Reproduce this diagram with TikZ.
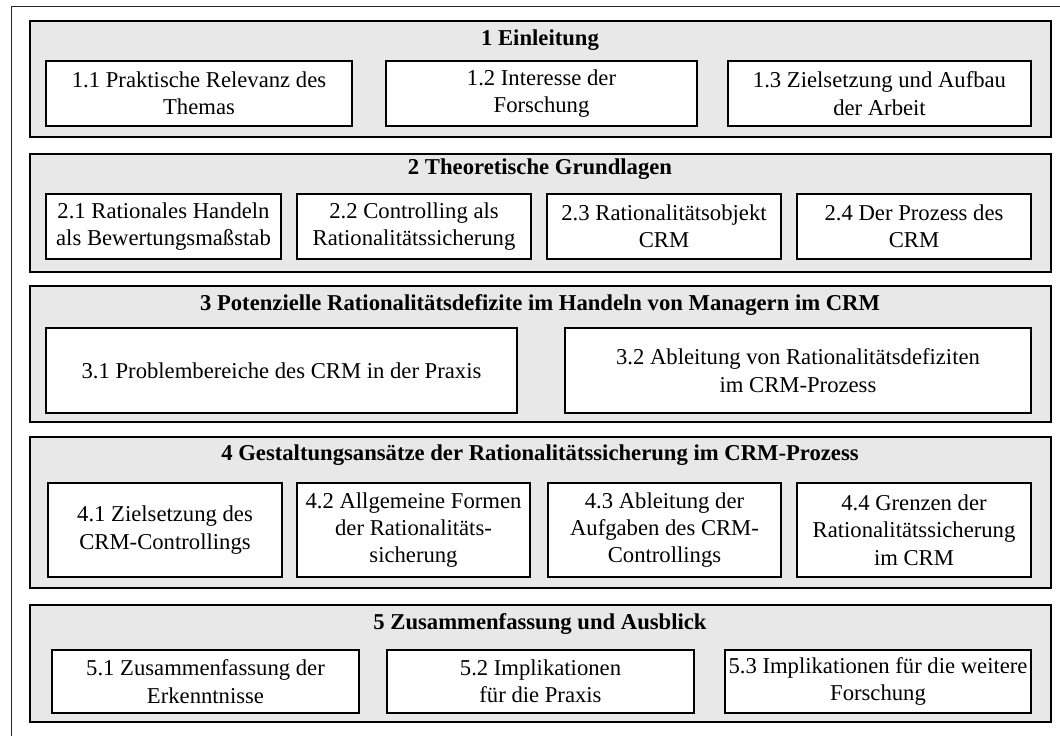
\documentclass[tikz,border=0pt]{standalone}
\usepackage{fontspec}
\setmainfont{Liberation Serif}

\begin{document}
\begin{tikzpicture}[x=.75pt,y=-.75pt,
    part/.style={draw,line width=.8pt,fill=black!9},
    box/.style={draw,line width=.8pt,fill=white},
    txt/.style={align=center,inner sep=0pt,font=\fontsize{17}{20.5}\selectfont},
    head/.style={txt,font=\fontsize{17}{20.5}\selectfont\bfseries}]
  \useasboundingbox (0,0) rectangle (1060,736);
  \draw[black!85,line width=.6pt] (1060,6) -- (11,6) -- (11,736);
  % 1 Einleitung
  \draw[part] (30,21) rectangle (1051,137);
  \node[head] (h1) at (540,40) {1 Einleitung};
  \draw[box] (46,61) rectangle (352,126); \node[txt] (t11) at (199,93.5)
  {1.1 Praktische Relevanz des\\Themas};
  \draw[box] (386,61) rectangle (697,126); \node[txt] (t12) at (541.5,93.5)
  {1.2 Interesse der\\Forschung};
  \draw[box] (728,61) rectangle (1031,126); \node[txt] (t13) at (879.5,93.5)
  {1.3 Zielsetzung und Aufbau\\der Arbeit};
  % 2 Grundlagen
  \draw[part] (30,154) rectangle (1051,272);
  \node[head] (h2) at (540,169) {2 Theoretische Grundlagen};
  \draw[box] (46,194) rectangle (281,259); \node[txt] (t21) at (163.5,226.5)
  {2.1 Rationales Handeln\\als Bewertungsmaßstab};
  \draw[box] (297,194) rectangle (531,259); \node[txt] (t22) at (414,226.5)
  {2.2 Controlling als\\Rationalitätssicherung};
  \draw[box] (547,194) rectangle (781,259); \node[txt] (t23) at (664,226.5)
  {2.3 Rationalitätsobjekt\\CRM};
  \draw[box] (797,194) rectangle (1031,259); \node[txt] (t24) at (914,226.5)
  {2.4 Der Prozess des\\CRM};
  % 3 Defizite
  \draw[part] (30,286) rectangle (1051,422);
  \node[head] (h3) at (540,305)
  {3 Potenzielle Rationalitätsdefizite im Handeln von Managern im CRM};
  \draw[box] (46,328) rectangle (517,413); \node[txt] (t31) at (281.5,370.5)
  {3.1 Problembereiche des CRM in der Praxis};
  \draw[box] (565,328) rectangle (1031,413); \node[txt] (t32) at (798,370.5)
  {3.2 Ableitung von Rationalitätsdefiziten\\im CRM-Prozess};
  % 4 Gestaltung
  \draw[part] (30,437) rectangle (1051,588);
  \node[head] (h4) at (540,455)
  {4 Gestaltungsansätze der Rationalitätssicherung im CRM-Prozess};
  \draw[box] (48,483) rectangle (282,577); \node[txt] (t41) at (165,530)
  {4.1 Zielsetzung des\\CRM-Controllings};
  \draw[box] (297,483) rectangle (530,577); \node[txt] (t42) at (413.5,530)
  {4.2 Allgemeine Formen\\der Rationalitäts-\\sicherung};
  \draw[box] (548,483) rectangle (781,577); \node[txt] (t43) at (664.5,530)
  {4.3 Ableitung der\\Aufgaben des CRM-\\Controllings};
  \draw[box] (797,483) rectangle (1031,577); \node[txt] (t44) at (914,530)
  {4.4 Grenzen der\\Rationalitätssicherung\\im CRM};
  % 5 Ausblick
  \draw[part] (30,605) rectangle (1051,722);
  \node[head] (h5) at (540,624) {5 Zusammenfassung und Ausblick};
  \draw[box] (52,650) rectangle (359,713); \node[txt] (t51) at (205.5,681.5)
  {5.1 Zusammenfassung der\\Erkenntnisse};
  \draw[box] (387,650) rectangle (694,713); \node[txt] (t52) at (540.5,681.5)
  {5.2 Implikationen\\für die Praxis};
  \draw[box] (725,650) rectangle (1031,713); \node[txt] (t53) at (878,681.5)
  {5.3 Implikationen für die weitere\\Forschung};
\end{tikzpicture}
\end{document}
